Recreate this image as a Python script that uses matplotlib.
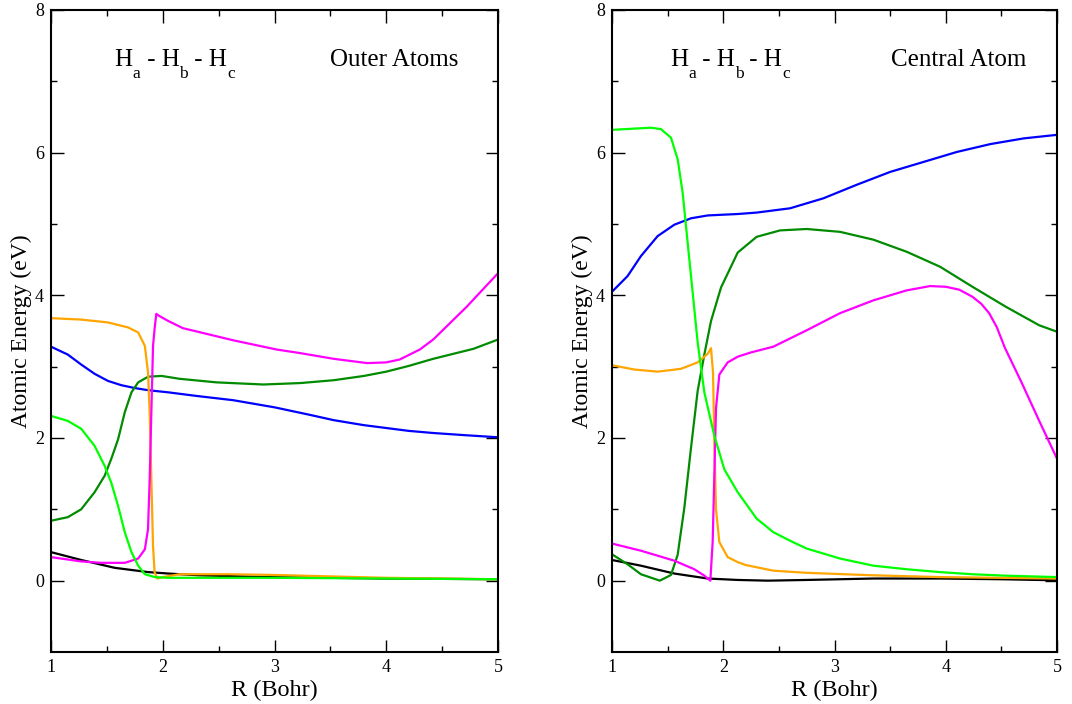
import matplotlib
matplotlib.use("Agg")
import matplotlib.pyplot as plt
import matplotlib.transforms as mtransforms
from matplotlib.ticker import MultipleLocator, FixedLocator

plt.rcParams['font.family'] = ['Liberation Serif', 'DejaVu Serif']

# ---------------- Left panel: Outer Atoms ----------------
L_black_x = [1.0, 1.27, 1.57, 1.87, 2.05, 2.33, 2.93, 3.5, 4.0, 5.0]
L_black_y = [0.40, 0.29, 0.18, 0.12, 0.10, 0.075, 0.05, 0.04, 0.03, 0.02]

L_blue_x = [1.0, 1.15, 1.27, 1.39, 1.51, 1.63, 1.75, 1.87, 2.05, 2.3, 2.63, 3.0, 3.3, 3.53, 3.8, 4.0, 4.2, 4.42, 4.7, 5.0]
L_blue_y = [3.28, 3.17, 3.03, 2.90, 2.80, 2.74, 2.70, 2.67, 2.64, 2.59, 2.53, 2.43, 2.33, 2.25, 2.18, 2.14, 2.10, 2.07, 2.04, 2.01]

L_dkgreen_x = [1.0, 1.15, 1.27, 1.39, 1.48, 1.54, 1.60, 1.66, 1.72, 1.78, 1.87, 1.99, 2.15, 2.48, 2.9, 3.23, 3.53, 3.8, 4.0, 4.2, 4.42, 4.6, 4.78, 5.0]
L_dkgreen_y = [0.84, 0.89, 1.00, 1.24, 1.47, 1.71, 1.98, 2.36, 2.64, 2.78, 2.86, 2.87, 2.83, 2.78, 2.75, 2.77, 2.81, 2.87, 2.93, 3.01, 3.11, 3.18, 3.25, 3.38]

L_ltgreen_x = [1.0, 1.15, 1.27, 1.39, 1.48, 1.54, 1.60, 1.66, 1.72, 1.78, 1.84, 1.93, 2.05, 2.5, 3.0, 4.0, 5.0]
L_ltgreen_y = [2.31, 2.24, 2.13, 1.89, 1.61, 1.37, 1.05, 0.68, 0.40, 0.21, 0.09, 0.05, 0.04, 0.04, 0.04, 0.03, 0.02]

L_magenta_x = [1.0, 1.27, 1.45, 1.66, 1.78, 1.84, 1.868, 1.883, 1.898, 1.913, 1.927, 1.942, 1.97, 2.05, 2.18, 2.63, 3.02, 3.23, 3.53, 3.83, 4.0, 4.12, 4.30, 4.42, 4.72, 5.0]
L_magenta_y = [0.33, 0.27, 0.25, 0.25, 0.31, 0.44, 0.72, 1.42, 2.36, 3.29, 3.53, 3.74, 3.71, 3.64, 3.54, 3.37, 3.24, 3.19, 3.11, 3.05, 3.06, 3.10, 3.24, 3.38, 3.84, 4.31]

L_orange_x = [1.0, 1.27, 1.51, 1.69, 1.78, 1.84, 1.868, 1.883, 1.898, 1.913, 1.927, 1.95, 2.0, 2.15, 2.6, 3.0, 3.5, 4.0, 4.5, 5.0]
L_orange_y = [3.68, 3.66, 3.62, 3.55, 3.48, 3.29, 2.92, 2.36, 1.42, 0.49, 0.12, 0.03, 0.05, 0.09, 0.09, 0.08, 0.06, 0.04, 0.03, 0.02]

# ---------------- Right panel: Central Atom ----------------
R_black_x = [1.0, 1.26, 1.56, 1.86, 2.13, 2.4, 2.75, 3.35, 3.95, 4.5, 5.0]
R_black_y = [0.29, 0.21, 0.10, 0.03, 0.01, 0.0, 0.01, 0.03, 0.03, 0.02, 0.005]

R_blue_x = [1.0, 1.14, 1.26, 1.41, 1.56, 1.71, 1.86, 2.13, 2.3, 2.6, 2.9, 3.2, 3.5, 3.8, 4.1, 4.4, 4.7, 5.0]
R_blue_y = [4.05, 4.27, 4.55, 4.83, 4.99, 5.08, 5.12, 5.14, 5.16, 5.22, 5.36, 5.55, 5.73, 5.87, 6.01, 6.12, 6.20, 6.25]

R_dkgreen_x = [1.0, 1.14, 1.26, 1.43, 1.53, 1.59, 1.65, 1.71, 1.77, 1.83, 1.89, 1.98, 2.13, 2.3, 2.51, 2.75, 3.05, 3.35, 3.65, 3.95, 4.24, 4.54, 4.84, 5.0]
R_dkgreen_y = [0.37, 0.23, 0.09, 0.0, 0.08, 0.36, 1.02, 1.86, 2.66, 3.17, 3.64, 4.11, 4.60, 4.82, 4.91, 4.93, 4.89, 4.78, 4.61, 4.40, 4.12, 3.84, 3.58, 3.49]

R_ltgreen_x = [1.0, 1.35, 1.44, 1.53, 1.59, 1.635, 1.68, 1.725, 1.77, 1.83, 1.92, 2.01, 2.13, 2.3, 2.45, 2.6, 2.75, 3.05, 3.35, 3.65, 3.95, 4.24, 4.54, 5.0]
R_ltgreen_y = [6.32, 6.35, 6.33, 6.21, 5.91, 5.44, 4.74, 4.04, 3.34, 2.64, 2.03, 1.56, 1.24, 0.87, 0.68, 0.56, 0.45, 0.31, 0.21, 0.16, 0.12, 0.09, 0.07, 0.05]

R_magenta_x = [1.0, 1.26, 1.56, 1.74, 1.83, 1.884, 1.905, 1.92, 1.935, 1.965, 2.04, 2.13, 2.25, 2.45, 2.75, 3.05, 3.35, 3.65, 3.86, 4.0, 4.12, 4.24, 4.32, 4.39, 4.46, 4.53, 4.69, 4.84, 5.0]
R_magenta_y = [0.52, 0.42, 0.28, 0.16, 0.07, 0.0, 0.55, 1.49, 2.42, 2.89, 3.06, 3.14, 3.20, 3.28, 3.51, 3.75, 3.93, 4.07, 4.13, 4.12, 4.08, 3.98, 3.88, 3.75, 3.55, 3.27, 2.75, 2.24, 1.71]

R_orange_x = [1.0, 1.2, 1.41, 1.62, 1.77, 1.86, 1.89, 1.908, 1.92, 1.935, 1.965, 2.04, 2.13, 2.2, 2.45, 2.75, 3.35, 3.95, 5.0]
R_orange_y = [3.02, 2.96, 2.93, 2.97, 3.06, 3.18, 3.26, 2.92, 1.94, 1.00, 0.54, 0.33, 0.26, 0.22, 0.14, 0.11, 0.075, 0.05, 0.03]

x_ticks = [1, 2, 3, 4, 5]
y_ticks = [0, 2, 4, 6, 8]
x_label = "R (Bohr)"
y_label = "Atomic Energy (eV)"
formula_parts = [("H", "main"), ("a", "sub"), (" - H", "main"), ("b", "sub"), (" - H", "main"), ("c", "sub")]
titles = ["Outer Atoms", "Central Atom"]

colors = {
    'black': '#000000',
    'blue': '#0000ff',
    'dkgreen': '#008b00',
    'ltgreen': '#00ff00',
    'magenta': '#ff00ff',
    'orange': '#ffa500',
}

panels = [
    [(L_black_x, L_black_y, 'black'), (L_blue_x, L_blue_y, 'blue'),
     (L_dkgreen_x, L_dkgreen_y, 'dkgreen'), (L_orange_x, L_orange_y, 'orange'),
     (L_magenta_x, L_magenta_y, 'magenta'), (L_ltgreen_x, L_ltgreen_y, 'ltgreen')],
    [(R_black_x, R_black_y, 'black'), (R_blue_x, R_blue_y, 'blue'),
     (R_dkgreen_x, R_dkgreen_y, 'dkgreen'), (R_orange_x, R_orange_y, 'orange'),
     (R_magenta_x, R_magenta_y, 'magenta'), (R_ltgreen_x, R_ltgreen_y, 'ltgreen')],
]

fig = plt.figure(figsize=(10.72, 7.04), dpi=100)
renderer = fig.canvas.get_renderer()

ax_pos = [
    [51/1072, 52/704, (498-51)/1072, (652-10)/704],
    [612/1072, 52/704, (1057-612)/1072, (652-10)/704],
]

title_x = [(1.57, 3.50), (1.52, 3.51)]
MAIN_SIZE = 18
SUB_SIZE = 12.5
SUB_DROP = -8.5


def place_formula(ax, x, y):
    dx = 0.0
    for s, kind in formula_parts:
        size = MAIN_SIZE if kind == "main" else SUB_SIZE
        dy = 0.0 if kind == "main" else SUB_DROP
        tr = mtransforms.offset_copy(ax.transData, fig=fig, x=dx, y=dy, units='points')
        t = ax.text(x, y, s, fontsize=size, transform=tr, ha='left', va='baseline')
        bb = t.get_window_extent(renderer=renderer)
        dx += bb.width * 72.0 / fig.dpi


for i, (pos, curves) in enumerate(zip(ax_pos, panels)):
    ax = fig.add_axes(pos)
    for xs, ys, c in curves:
        ax.plot(xs, ys, color=colors[c], lw=1.6, solid_joinstyle='round')
    ax.set_xlim(1, 5)
    ax.set_ylim(-1, 8)
    ax.xaxis.set_major_locator(FixedLocator(x_ticks))
    ax.xaxis.set_minor_locator(MultipleLocator(0.5))
    ax.yaxis.set_major_locator(FixedLocator(y_ticks))
    ax.yaxis.set_minor_locator(FixedLocator([1, 3, 5, 7]))
    ax.tick_params(which='both', direction='in', top=True, right=True, width=1.0,
                   labelsize=13, pad=5)
    ax.tick_params(which='major', length=9)
    ax.tick_params(which='minor', length=4.5)
    for s in ax.spines.values():
        s.set_linewidth(1.5)
    ax.set_xlabel(x_label, fontsize=17.5, labelpad=3)
    ax.set_ylabel(y_label, fontsize=17, labelpad=2)
    place_formula(ax, title_x[i][0], 7.21)
    ax.text(title_x[i][1], 7.21, titles[i], fontsize=18, ha='left', va='baseline')

fig.savefig("out.png", dpi=100)
